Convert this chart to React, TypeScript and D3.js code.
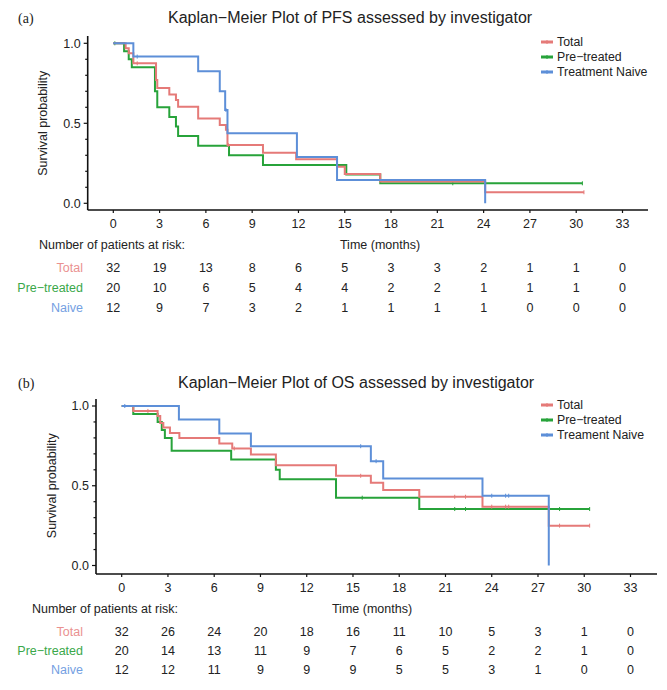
import React from "react";
import * as d3 from "d3";

// ---------- data ----------
const timeTicks = [0, 3, 6, 9, 12, 15, 18, 21, 24, 27, 30, 33];
const groupNames = ["Total", "Pre−treated", "Naive"];
const legendNamesA = ["Total", "Pre−treated", "Treatment Naive"];
const legendNamesB = ["Total", "Pre−treated", "Treament Naive"];

// PFS steps: [time, survival after step]
const pfsTotal: [number, number][] = [[0, 1], [0.8, 0.969], [1.0, 0.9375], [1.3, 0.875], [2.77, 0.77], [2.85, 0.72], [3.63, 0.68], [4.06, 0.645], [4.2, 0.604], [5.5, 0.53], [6.9, 0.49], [7.3, 0.46], [7.4, 0.364], [9.7, 0.316], [11.85, 0.275], [14.5, 0.229], [15.0, 0.183], [17.3, 0.137], [24.1, 0.069]];
const pfsPre: [number, number][] = [[0, 1], [0.7, 0.95], [1.0, 0.9], [1.2, 0.85], [2.7, 0.7], [2.85, 0.6], [3.63, 0.54], [4.06, 0.48], [4.2, 0.42], [5.5, 0.36], [7.5, 0.3], [9.7, 0.24], [15.1, 0.18], [17.3, 0.125]];
const pfsNaive: [number, number][] = [[0, 1], [1.3, 0.917], [5.5, 0.825], [6.9, 0.7], [7.25, 0.583], [7.4, 0.4375], [11.9, 0.29], [14.5, 0.146], [24.1, 0]];
const pfsEnds = [30.5, 30.4, 24.1];
const pfsCensTotal = [1.55, 7.45, 30.5];
const pfsCensPre = [0.1, 22, 30.4];
const pfsCensNaive = [1.55, 7.3];

// OS steps
const osTotal: [number, number][] = [[0, 1], [0.75, 0.969], [2.33, 0.9375], [2.5, 0.894], [2.7, 0.865], [3.13, 0.83], [3.74, 0.8], [6.33, 0.765], [7.17, 0.734], [8.38, 0.696], [10.0, 0.629], [13.9, 0.5625], [16.16, 0.519], [16.96, 0.473], [19.3, 0.431], [23.4, 0.369], [27.7, 0.25]];
const osPre: [number, number][] = [[0, 1], [0.75, 0.95], [2.33, 0.9], [2.6, 0.85], [2.8, 0.8], [3.24, 0.72], [7.1, 0.665], [10.0, 0.6], [10.25, 0.54], [13.9, 0.425], [19.3, 0.354]];
const osNaive: [number, number][] = [[0, 1], [3.71, 0.915], [6.33, 0.827], [8.38, 0.748], [16.16, 0.654], [16.96, 0.546], [23.4, 0.4375], [27.7, 0]];
const osEnds = [30.35, 30.35, 27.7];
const osCensTotal = [1.7, 7.3, 15.5, 21.6, 22.3, 24.0, 24.9, 25.1, 28.4, 30.35];
const osCensPre = [15.6, 21.6, 22.3, 28.4, 30.35];
const osCensNaive = [0.2, 15.5, 16.5, 24.0, 24.9, 25.1];

// numbers at risk
const pfsRiskTotal = [32, 19, 13, 8, 6, 5, 3, 3, 2, 1, 1, 0];
const pfsRiskPre = [20, 10, 6, 5, 4, 4, 2, 2, 1, 1, 1, 0];
const pfsRiskNaive = [12, 9, 7, 3, 2, 1, 1, 1, 1, 0, 0, 0];
const osRiskTotal = [32, 26, 24, 20, 18, 16, 11, 10, 5, 3, 1, 0];
const osRiskPre = [20, 14, 13, 11, 9, 7, 6, 5, 2, 2, 1, 0];
const osRiskNaive = [12, 12, 11, 9, 9, 9, 5, 5, 3, 1, 0, 0];

const lineColors = ["#e57a78", "#27a33a", "#5d8fd8"];
const labelColors = ["#ea9190", "#3aa84a", "#74a0e2"];
const FONT = "'Liberation Sans', Arial, sans-serif";

function survAt(steps: [number, number][], t: number) {
  let s = 1;
  for (const [tt, v] of steps) if (tt <= t) s = v;
  return s;
}

type PanelProps = {
  letter: string;
  title: string;
  titleX: number;
  xRange: [number, number];
  yRange: [number, number];
  axisX: number;
  axisY: number;
  axisTop: number;
  axisRight: number;
  ylabelX: number;
  curves: [number, number][][];
  ends: number[];
  censors: number[][];
  risks: number[][];
  legend: string[];
  numX: number;
  timeX: number;
  offs: { tick: number; num: number; rows: number[]; legend: number[]; title: number };
};

function Panel(p: PanelProps) {
  const x = d3.scaleLinear().domain([0, 33]).range(p.xRange);
  const y = d3.scaleLinear().domain([0, 1]).range(p.yRange);
  const line = d3
    .line<[number, number]>()
    .x((d) => x(d[0]))
    .y((d) => y(d[1]))
    .curve(d3.curveStepAfter);
  const yTicks = d3.range(0, 11).map((i) => i / 10);
  return (
    <g>
      <text x={18} y={p.offs.title} fontFamily="'Liberation Serif', 'Times New Roman', serif" fontSize={14} fill="#222">
        {p.letter}
      </text>
      <text x={p.titleX} y={p.offs.title} fontFamily={FONT} fontSize={16} fill="#222">
        {p.title}
      </text>
      {/* axes */}
      <line x1={p.axisX} x2={p.axisX} y1={p.axisTop} y2={p.axisY} stroke="#111" strokeWidth={1.6} />
      <line x1={p.axisX} x2={p.axisRight} y1={p.axisY} y2={p.axisY} stroke="#111" strokeWidth={1.6} />
      {yTicks.map((v, i) => (
        <line key={i} x1={p.axisX - (i % 5 === 0 ? 4 : 2.5)} x2={p.axisX} y1={y(v)} y2={y(v)} stroke="#111" strokeWidth={1.2} />
      ))}
      {[0, 0.5, 1].map((v) => (
        <text key={v} x={p.axisX - 7} y={y(v)} dy="0.35em" textAnchor="end" fontFamily={FONT} fontSize={12.5} fill="#222">
          {d3.format(".1f")(v)}
        </text>
      ))}
      <text
        transform={`translate(${p.ylabelX},${(p.yRange[0] + p.yRange[1]) / 2}) rotate(-90)`}
        textAnchor="middle"
        dy="0.35em"
        fontFamily={FONT}
        fontSize={12.5}
        fill="#222"
      >
        Survival probability
      </text>
      {timeTicks.map((t) => (
        <g key={t}>
          <line x1={x(t)} x2={x(t)} y1={p.axisY} y2={p.axisY + 3} stroke="#111" strokeWidth={1.2} />
          <text x={x(t)} y={p.offs.tick} dy="0.35em" textAnchor="middle" fontFamily={FONT} fontSize={12.5} fill="#222">
            {t}
          </text>
        </g>
      ))}
      {/* curves */}
      {[1, 0, 2].map((gi) => {
        const pts = [...p.curves[gi]];
        const last = pts[pts.length - 1];
        if (p.ends[gi] > last[0]) pts.push([p.ends[gi], last[1]]);
        return (
          <g key={gi}>
            <path d={line(pts) || ""} fill="none" stroke={lineColors[gi]} strokeWidth={2} />
            {p.censors[gi].map((t, k) => {
              const s = survAt(p.curves[gi], t);
              return <line key={k} x1={x(t)} x2={x(t)} y1={y(s) - 2} y2={y(s) + 2} stroke={lineColors[gi]} strokeWidth={1} />;
            })}
          </g>
        );
      })}
      {/* legend */}
      {p.legend.map((name, i) => (
        <g key={name}>
          <line x1={541} x2={553} y1={p.offs.legend[i]} y2={p.offs.legend[i]} stroke={lineColors[i]} strokeWidth={3} />
          <line x1={547} x2={547} y1={p.offs.legend[i] - 2} y2={p.offs.legend[i] + 2} stroke={lineColors[i]} strokeWidth={1} />
          <text x={557} y={p.offs.legend[i]} dy="0.35em" fontFamily={FONT} fontSize={12.3} fill="#222">
            {name}
          </text>
        </g>
      ))}
      {/* risk table */}
      <text x={p.numX} y={p.offs.num} dy="0.35em" fontFamily={FONT} fontSize={12.5} fill="#222">
        Number of patients at risk:
      </text>
      <text x={p.timeX} y={p.offs.num} dy="0.35em" textAnchor="middle" fontFamily={FONT} fontSize={12.5} fill="#222">
        Time (months)
      </text>
      {p.risks.map((row, gi) => (
        <g key={gi}>
          <text x={83} y={p.offs.rows[gi]} dy="0.35em" textAnchor="end" fontFamily={FONT} fontSize={12.5} fill={labelColors[gi]}>
            {groupNames[gi]}
          </text>
          {row.map((n, k) => (
            <text key={k} x={x(timeTicks[k])} y={p.offs.rows[gi]} dy="0.35em" textAnchor="middle" fontFamily={FONT} fontSize={12.5} fill="#222">
              {n}
            </text>
          ))}
        </g>
      ))}
    </g>
  );
}

export default function App() {
  return (
    <svg width={667} height={690} style={{ position: "absolute", left: 0, top: 0, background: "#fff" }}>
      <rect width={667} height={690} fill="#fff" />
      <Panel
        letter="(a)"
        title="Kaplan−Meier Plot of PFS assessed by investigator"
        titleX={168}
        xRange={[113.3, 622.5]}
        yRange={[203.3, 43.3]}
        axisX={87.7}
        axisY={210}
        axisTop={36}
        axisRight={648}
        ylabelX={43}
        curves={[pfsTotal, pfsPre, pfsNaive]}
        ends={pfsEnds}
        censors={[pfsCensTotal, pfsCensPre, pfsCensNaive]}
        risks={[pfsRiskTotal, pfsRiskPre, pfsRiskNaive]}
        legend={legendNamesA}
        numX={39}
        timeX={380}
        offs={{ tick: 224, num: 245, rows: [268, 288, 308], legend: [42, 57, 72], title: 23 }}
      />
      <Panel
        letter="(b)"
        title="Kaplan−Meier Plot of OS assessed by investigator"
        titleX={178}
        xRange={[121.7, 630.5]}
        yRange={[565.5, 406]}
        axisX={96}
        axisY={574}
        axisTop={399}
        axisRight={657}
        ylabelX={52}
        curves={[osTotal, osPre, osNaive]}
        ends={osEnds}
        censors={[osCensTotal, osCensPre, osCensNaive]}
        risks={[osRiskTotal, osRiskPre, osRiskNaive]}
        legend={legendNamesB}
        numX={32}
        timeX={372}
        offs={{ tick: 588, num: 609, rows: [632, 651, 670], legend: [405, 420, 435], title: 388 }}
      />
    </svg>
  );
}
